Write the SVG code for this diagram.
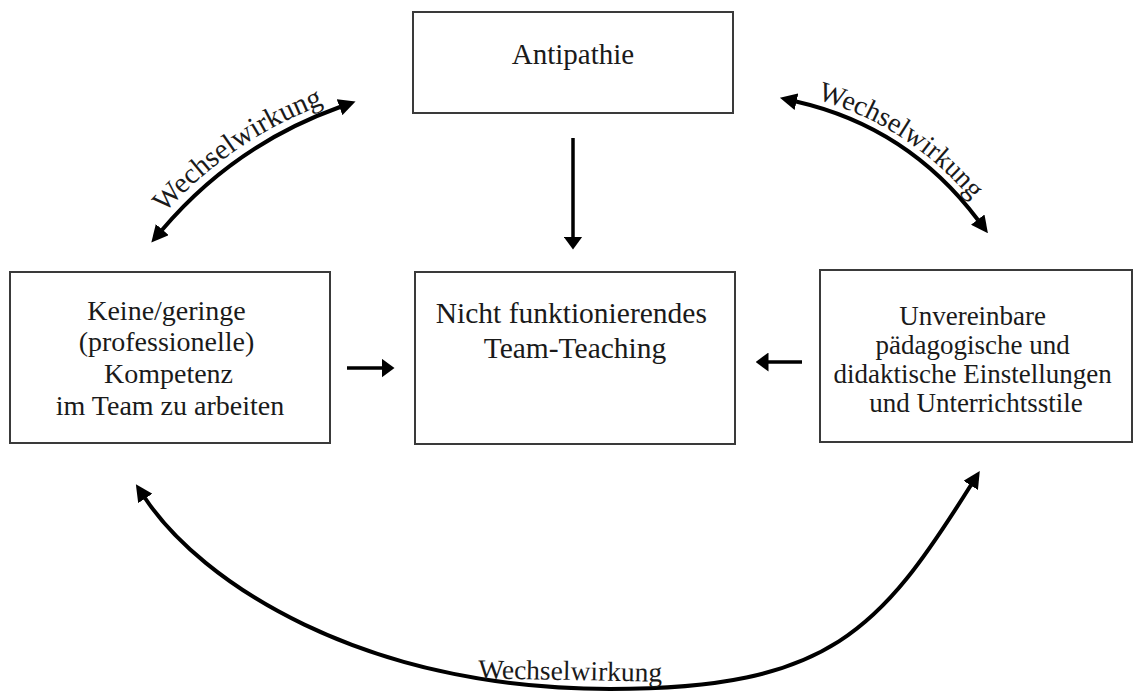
<svg xmlns="http://www.w3.org/2000/svg" width="1135" height="694" viewBox="0 0 1135 694">
  <style>
    .box { fill: #ffffff; stroke: #3a3a3a; stroke-width: 2; }
    .lbl { font-family: "Liberation Serif", "Times New Roman", serif; fill: #1a1a1a; text-anchor: middle; }
    .arr { fill: none; stroke: #000000; stroke-width: 3.5; }
    .curve { fill: none; stroke: #000000; stroke-width: 4; }
  </style>
  <defs>
    <marker id="head" markerUnits="userSpaceOnUse" viewBox="0 0 13 19" markerWidth="13" markerHeight="19" refX="0.5" refY="9.5" orient="auto-start-reverse">
      <path d="M0,0 L13,9.5 L0,19 z" fill="#000000"/>
    </marker>
    <marker id="chead" markerUnits="userSpaceOnUse" viewBox="0 0 17 17" markerWidth="17" markerHeight="17" refX="0.5" refY="8.5" orient="auto-start-reverse">
      <path d="M0,0 L17,8.5 L0,17 z" fill="#000000"/>
    </marker>
    <path id="tpLeft" d="M156,223 Q229,137 336,100"/>
    <path id="tpRight" d="M800,95 Q912,121 983,214"/>
  </defs>

  <g id="node-antipathie">
    <rect class="box" x="413" y="12" width="320" height="101"/>
    <text class="lbl" x="573" y="64" font-size="29">Antipathie</text>
  </g>

  <g id="node-kompetenz">
    <rect class="box" x="10" y="272" width="320" height="171"/>
    <text class="lbl" font-size="28">
      <tspan x="170" y="320">Keine/geringe</tspan>
      <tspan x="170" y="351">(professionelle)</tspan>
      <tspan x="172" y="383">Kompetenz</tspan>
      <tspan x="170" y="415">im Team zu arbeiten</tspan>
    </text>
  </g>

  <g id="node-teamteaching">
    <rect class="box" x="415" y="272" width="320" height="172"/>
    <text class="lbl" font-size="29.5">
      <tspan x="575" y="323">Nicht funktionierendes</tspan>
      <tspan x="575" y="358">Team-Teaching</tspan>
    </text>
  </g>

  <g id="node-einstellungen">
    <rect class="box" x="820" y="270" width="312" height="172"/>
    <text class="lbl" font-size="27">
      <tspan x="976" y="325">Unvereinbare</tspan>
      <tspan x="976" y="354">pädagogische und</tspan>
      <tspan x="976" y="383">didaktische Einstellungen</tspan>
      <tspan x="976" y="412">und Unterrichtsstile</tspan>
    </text>
  </g>

  <g id="connectors">
    <line class="arr" x1="573" y1="138" x2="573" y2="237" marker-end="url(#head)"/>
    <line class="arr" x1="347" y1="368" x2="382" y2="368" marker-end="url(#head)"/>
    <line class="arr" x1="802" y1="362" x2="768" y2="362" marker-end="url(#head)"/>

    <path class="curve" d="M162,230 Q234,145 340,107" marker-start="url(#chead)" marker-end="url(#chead)"/>
    <text class="lbl" font-size="29"><textPath href="#tpLeft" startOffset="50%">Wechselwirkung</textPath></text>

    <path class="curve" d="M796,101.5 Q908,127 978,220" marker-start="url(#chead)" marker-end="url(#chead)"/>
    <text class="lbl" font-size="28"><textPath href="#tpRight" startOffset="50%">Wechselwirkung</textPath></text>

    <path class="curve" d="M145,498 C200,581 360,689 610,689 C830,689 880,630 971,485" marker-start="url(#chead)" marker-end="url(#chead)"/>
    <text class="lbl" x="570" y="680" font-size="27.5" transform="rotate(1 570 680)">Wechselwirkung</text>
  </g>
</svg>
